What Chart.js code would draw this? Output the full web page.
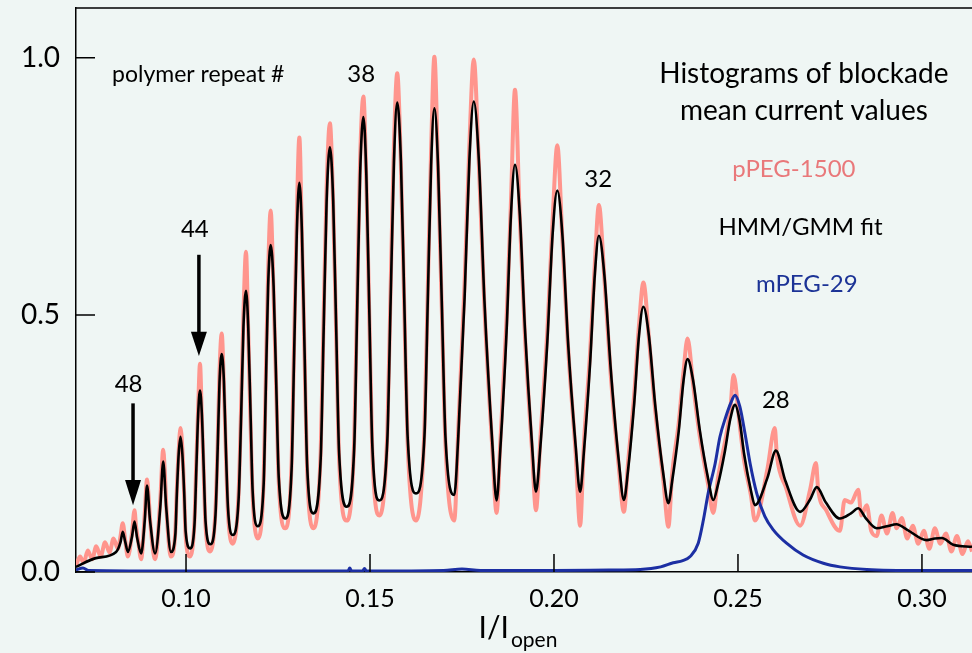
<!DOCTYPE html>
<html>
<head>
<meta charset="utf-8">
<title>Histograms of blockade mean current values</title>
<script src="https://cdn.jsdelivr.net/npm/chart.js@4.4.1/dist/chart.umd.min.js"></script>
<style>
  html, body { margin: 0; padding: 0; background: #eff6f4; }
  #wrap { width: 972px; height: 653px; }
</style>
</head>
<body>
<div id="wrap"><canvas id="histChart" width="972" height="653"></canvas></div>
<script>
// axis ticks
const xTicks = [0.10, 0.15, 0.20, 0.25, 0.30];
const yTicks = [0.0, 0.5, 1.0];

// HMM/GMM fit (black): foot, half, shoulder, peak, shoulder, half, foot, valley
const fitX = [0.0701, 0.0755, 0.0810, 0.0822, 0.0828, 0.0835, 0.0842,
  0.0853, 0.0860, 0.0867, 0.0878,
  0.0888, 0.0894, 0.0902, 0.0916,
  0.0930, 0.0938, 0.0946, 0.0959,
  0.0971, 0.0975, 0.0980, 0.0985, 0.0990, 0.0995, 0.0999, 0.1011,
  0.1023, 0.1028, 0.1033, 0.1038, 0.1043, 0.1048, 0.1053, 0.1066,
  0.1080, 0.1086, 0.1091, 0.1097, 0.1103, 0.1108, 0.1114, 0.1127,
  0.1143, 0.1150, 0.1156, 0.1163, 0.1169, 0.1175, 0.1181, 0.1195,
  0.1211, 0.1217, 0.1223, 0.1230, 0.1238, 0.1245, 0.1252, 0.1270,
  0.1287, 0.1294, 0.1301, 0.1308, 0.1315, 0.1322, 0.1329, 0.1346,
  0.1366, 0.1374, 0.1382, 0.1391, 0.1400, 0.1408, 0.1416, 0.1437,
  0.1457, 0.1465, 0.1473, 0.1482, 0.1490, 0.1498, 0.1506, 0.1525,
  0.1547, 0.1556, 0.1565, 0.1574, 0.1584, 0.1593, 0.1602, 0.1625,
  0.1648, 0.1657, 0.1666, 0.1675, 0.1685, 0.1695, 0.1705, 0.1729,
  0.1740, 0.1757, 0.1770, 0.1782, 0.1796, 0.1811, 0.1832, 0.1844,
  0.1854, 0.1871, 0.1883, 0.1894, 0.1907, 0.1921, 0.1940, 0.1951,
  0.1963, 0.1982, 0.1996, 0.2009, 0.2023, 0.2038, 0.2059, 0.2071,
  0.2081, 0.2098, 0.2111, 0.2122, 0.2137, 0.2154, 0.2176, 0.2190,
  0.2201, 0.2218, 0.2231, 0.2243, 0.2258, 0.2275, 0.2297, 0.2311,
  0.2321, 0.2339, 0.2352, 0.2363, 0.2378, 0.2396, 0.2419, 0.2433,
  0.2445, 0.2464, 0.2479, 0.2492, 0.2504, 0.2517, 0.2535, 0.2546,
  0.2580, 0.2603, 0.2629, 0.2669,
  0.2696, 0.2714, 0.2739, 0.2777,
  0.2807, 0.2827, 0.2847, 0.2877,
  0.2905, 0.2931, 0.2960, 0.3013, 0.3035, 0.3054, 0.3085, 0.3136];
const fitY = [0.010, 0.027, 0.039, 0.058, 0.078, 0.058, 0.039,
  0.068, 0.098, 0.067, 0.036,
  0.102, 0.168, 0.102, 0.036,
  0.126, 0.215, 0.127, 0.039,
  0.073, 0.151, 0.229, 0.263, 0.230, 0.155, 0.079, 0.046,
  0.092, 0.200, 0.307, 0.353, 0.308, 0.204, 0.099, 0.054,
  0.110, 0.239, 0.369, 0.424, 0.371, 0.248, 0.125, 0.072,
  0.143, 0.310, 0.476, 0.547, 0.478, 0.318, 0.158, 0.089,
  0.171, 0.363, 0.554, 0.636, 0.556, 0.370, 0.184, 0.104,
  0.202, 0.431, 0.659, 0.757, 0.661, 0.436, 0.210, 0.114,
  0.221, 0.470, 0.719, 0.826, 0.721, 0.477, 0.232, 0.127,
  0.241, 0.506, 0.771, 0.885, 0.773, 0.512, 0.251, 0.139,
  0.255, 0.526, 0.797, 0.913, 0.799, 0.533, 0.267, 0.153,
  0.265, 0.528, 0.790, 0.902, 0.789, 0.526, 0.263, 0.150,
  0.265, 0.533, 0.800, 0.915, 0.799, 0.527, 0.255, 0.139,
  0.237, 0.466, 0.694, 0.792, 0.697, 0.474, 0.251, 0.156,
  0.244, 0.449, 0.654, 0.742, 0.654, 0.449, 0.244, 0.156,
  0.231, 0.405, 0.579, 0.654, 0.577, 0.397, 0.217, 0.140,
  0.196, 0.328, 0.460, 0.516, 0.459, 0.325, 0.191, 0.134,
  0.176, 0.274, 0.372, 0.414, 0.373, 0.277, 0.181, 0.140,
  0.168, 0.233, 0.297, 0.325, 0.296, 0.228, 0.159, 0.130,
  0.183, 0.236, 0.177, 0.117,
  0.141, 0.165, 0.135, 0.104,
  0.114, 0.124, 0.105, 0.085,
  0.089, 0.093, 0.082, 0.062, 0.065, 0.066, 0.053, 0.049];

// pPEG-1500 histogram (pink), noisy
const pegX = [0.0701, 0.0712, 0.0722, 0.0733, 0.0745, 0.0756, 0.0768, 0.0780, 0.0792, 0.0803, 0.0815, 0.0822, 0.0828, 0.0835, 0.0842,
  0.0853, 0.0860, 0.0864, 0.0870, 0.0878,
  0.0888, 0.0894, 0.0898, 0.0903, 0.0916,
  0.0930, 0.0938, 0.0942, 0.0947, 0.0959,
  0.0971, 0.0975, 0.0980, 0.0985, 0.0990, 0.0995, 0.0999, 0.1011,
  0.1023, 0.1028, 0.1033, 0.1038, 0.1043, 0.1048, 0.1053, 0.1066,
  0.1080, 0.1086, 0.1091, 0.1097, 0.1103, 0.1108, 0.1114, 0.1127,
  0.1143, 0.1150, 0.1156, 0.1163, 0.1169, 0.1175, 0.1181, 0.1195,
  0.1211, 0.1217, 0.1223, 0.1230, 0.1238, 0.1245, 0.1252, 0.1270,
  0.1287, 0.1294, 0.1301, 0.1308, 0.1315, 0.1322, 0.1329, 0.1346,
  0.1366, 0.1374, 0.1382, 0.1391, 0.1400, 0.1408, 0.1416, 0.1437,
  0.1457, 0.1465, 0.1473, 0.1482, 0.1490, 0.1498, 0.1506, 0.1525,
  0.1547, 0.1556, 0.1565, 0.1574, 0.1584, 0.1593, 0.1602, 0.1625,
  0.1648, 0.1657, 0.1666, 0.1675, 0.1685, 0.1695, 0.1705, 0.1729,
  0.1740, 0.1757, 0.1770, 0.1782, 0.1796, 0.1811, 0.1832, 0.1844,
  0.1854, 0.1871, 0.1883, 0.1894, 0.1907, 0.1921, 0.1940, 0.1951,
  0.1963, 0.1982, 0.1996, 0.2009, 0.2023, 0.2038, 0.2059, 0.2071,
  0.2081, 0.2098, 0.2111, 0.2122, 0.2137, 0.2154, 0.2176, 0.2190,
  0.2201, 0.2218, 0.2231, 0.2243, 0.2258, 0.2275, 0.2297, 0.2311,
  0.2321, 0.2339, 0.2352, 0.2363, 0.2378, 0.2396, 0.2419, 0.2433,
  0.2445, 0.2464, 0.2479, 0.2488, 0.2504, 0.2517, 0.2535, 0.2546,
  0.2580, 0.2600, 0.2606, 0.2630, 0.2669,
  0.2696, 0.2712, 0.2718, 0.2740, 0.2777,
  0.2790, 0.2807, 0.2827, 0.2835, 0.2850, 0.2862, 0.2877,
  0.2890, 0.2905, 0.2920, 0.2931, 0.2945, 0.2960, 0.2975, 0.2990, 0.3005, 0.3020, 0.3035, 0.3050, 0.3065, 0.3080, 0.3095, 0.3110, 0.3125, 0.3136];
const pegY = [0.012, 0.030, 0.018, 0.042, 0.025, 0.050, 0.030, 0.058, 0.038, 0.065, 0.045, 0.070, 0.095, 0.060, 0.030,
  0.075, 0.120, 0.090, 0.060, 0.025,
  0.115, 0.180, 0.150, 0.095, 0.025,
  0.140, 0.238, 0.200, 0.120, 0.030,
  0.080, 0.160, 0.235, 0.280, 0.240, 0.150, 0.070, 0.030,
  0.100, 0.215, 0.320, 0.405, 0.300, 0.195, 0.090, 0.040,
  0.120, 0.250, 0.390, 0.464, 0.360, 0.240, 0.115, 0.055,
  0.155, 0.330, 0.500, 0.623, 0.470, 0.300, 0.150, 0.065,
  0.180, 0.385, 0.580, 0.703, 0.540, 0.360, 0.175, 0.085,
  0.215, 0.455, 0.690, 0.845, 0.650, 0.425, 0.200, 0.085,
  0.235, 0.495, 0.745, 0.873, 0.710, 0.465, 0.220, 0.100,
  0.255, 0.530, 0.800, 0.925, 0.760, 0.500, 0.240, 0.110,
  0.270, 0.550, 0.830, 0.970, 0.790, 0.520, 0.255, 0.100,
  0.280, 0.550, 0.820, 1.002, 0.780, 0.515, 0.250, 0.100,
  0.280, 0.560, 0.830, 0.997, 0.790, 0.515, 0.245, 0.115,
  0.250, 0.490, 0.720, 0.938, 0.690, 0.460, 0.240, 0.120,
  0.260, 0.470, 0.680, 0.830, 0.645, 0.440, 0.230, 0.090,
  0.245, 0.425, 0.600, 0.714, 0.570, 0.385, 0.205, 0.117,
  0.210, 0.345, 0.480, 0.563, 0.455, 0.315, 0.180, 0.088,
  0.190, 0.290, 0.390, 0.454, 0.365, 0.265, 0.170, 0.115,
  0.180, 0.250, 0.315, 0.383, 0.290, 0.215, 0.150, 0.100,
  0.200, 0.280, 0.225, 0.165, 0.090,
  0.160, 0.212, 0.160, 0.120, 0.080,
  0.140, 0.135, 0.160, 0.110, 0.130, 0.080, 0.070,
  0.110, 0.075, 0.115, 0.085, 0.105, 0.065, 0.090, 0.055, 0.080, 0.045, 0.085, 0.055, 0.075, 0.040, 0.070, 0.035, 0.060, 0.040];

// mPEG-29 histogram (blue)
const mpegX = [0.0701, 0.0720, 0.0735, 0.1000, 0.1440, 0.1445, 0.1450, 0.1480, 0.1485, 0.1490, 0.1700, 0.1750, 0.1800, 0.2000, 0.2150,
  0.2234, 0.2290, 0.2324, 0.2350, 0.2370, 0.2392, 0.2406, 0.2419, 0.2438, 0.2451, 0.2467, 0.2480, 0.2492,
  0.2505, 0.2519, 0.2533, 0.2551, 0.2573, 0.2596, 0.2632, 0.2677, 0.2732, 0.2777, 0.2850, 0.3000, 0.3136];
const mpegY = [0.004, 0.008, 0.003, 0.002, 0.002, 0.008, 0.002, 0.002, 0.007, 0.002, 0.003, 0.006, 0.003, 0.003, 0.004,
  0.005, 0.010, 0.018, 0.022, 0.030, 0.056, 0.101, 0.153, 0.211, 0.263, 0.302, 0.328, 0.344,
  0.322, 0.270, 0.211, 0.153, 0.108, 0.082, 0.056, 0.033, 0.017, 0.010, 0.005, 0.003, 0.003];

// annotations in data coordinates
const peakLabels = [
  { text: '38', x: 0.1476, y: 0.954 },
  { text: '44', x: 0.1024, y: 0.652 },
  { text: '48', x: 0.0844, y: 0.350 },
  { text: '32', x: 0.2120, y: 0.749 },
  { text: '28', x: 0.2603, y: 0.319 }
];
const arrows = [
  { x: 0.1035, top: 0.617, head: 0.4675, tip: 0.420 },
  { x: 0.0856, top: 0.328, head: 0.179, tip: 0.130 }
];
const notes = [
  { text: 'Histograms of blockade', x: 0.2679, y: 0.951, color: '#000', size: 28 },
  { text: 'mean current values', x: 0.2679, y: 0.879, color: '#000', size: 28 },
  { text: 'pPEG-1500', x: 0.2652, y: 0.769, color: '#e9787a', size: 24 },
  { text: 'HMM/GMM fit', x: 0.2670, y: 0.656, color: '#000', size: 24 },
  { text: 'mPEG-29', x: 0.2687, y: 0.545, color: '#1c3396', size: 24 }
];

const FONT = 'Lato, "Open Sans", sans-serif';

function pts(xs, ys) {
  return xs.map((x, i) => ({ x: x, y: ys[i] }));
}

const decor = {
  id: 'decor',
  afterDraw(chart) {
    const { ctx, chartArea: a, scales: { x, y } } = chart;
    ctx.save();
    ctx.strokeStyle = '#000';
    ctx.lineWidth = 1.5;
    ctx.beginPath();
    // top frame runs off the right edge
    ctx.moveTo(a.left, a.top);
    ctx.lineTo(chart.width, a.top);
    // inward tick marks
    xTicks.forEach(v => {
      const px = x.getPixelForValue(v);
      ctx.moveTo(px, a.bottom);
      ctx.lineTo(px, a.bottom - 18);
    });
    yTicks.forEach(v => {
      const py = y.getPixelForValue(v);
      ctx.moveTo(a.left, py);
      ctx.lineTo(a.left + 19, py);
    });
    ctx.stroke();

    // arrows
    ctx.fillStyle = '#000';
    arrows.forEach(ar => {
      const px = x.getPixelForValue(ar.x);
      const yTop = y.getPixelForValue(ar.top);
      const yHead = y.getPixelForValue(ar.head);
      const yTip = y.getPixelForValue(ar.tip);
      ctx.lineWidth = 3.5;
      ctx.beginPath();
      ctx.moveTo(px, yTop);
      ctx.lineTo(px, yHead + 2);
      ctx.stroke();
      ctx.beginPath();
      ctx.moveTo(px - 8, yHead);
      ctx.lineTo(px + 8, yHead);
      ctx.lineTo(px, yTip);
      ctx.closePath();
      ctx.fill();
    });

    // texts
    ctx.textBaseline = 'alphabetic';
    ctx.textAlign = 'left';
    ctx.font = '23px ' + FONT;
    ctx.fillText('polymer repeat #', x.getPixelForValue(0.0799), y.getPixelForValue(0.954));

    ctx.textAlign = 'center';
    ctx.font = '24px ' + FONT;
    peakLabels.forEach(l => {
      ctx.fillText(l.text, x.getPixelForValue(l.x), y.getPixelForValue(l.y));
    });
    notes.forEach(n => {
      ctx.fillStyle = n.color;
      ctx.font = n.size + 'px ' + FONT;
      ctx.fillText(n.text, x.getPixelForValue(n.x), y.getPixelForValue(n.y));
    });

    // x axis title I/I_open
    ctx.fillStyle = '#000';
    ctx.textAlign = 'left';
    ctx.font = '30px ' + FONT;
    const main = 'I/I';
    const wMain = ctx.measureText(main).width;
    ctx.font = '21px ' + FONT;
    const wSub = ctx.measureText('open').width;
    const cx = 518;
    const startX = cx - (wMain + wSub + 2) / 2;
    ctx.font = '30px ' + FONT;
    ctx.fillText(main, startX, 638);
    ctx.font = '21px ' + FONT;
    ctx.fillText('open', startX + wMain + 2, 647);
    ctx.restore();
  }
};

const ctx = document.getElementById('histChart').getContext('2d');
const chart = new Chart(ctx, {
  type: 'line',
  data: {
    datasets: [
      {
        label: 'HMM/GMM fit',
        data: pts(fitX, fitY),
        borderColor: '#000',
        borderWidth: 2.6,
        cubicInterpolationMode: 'monotone',
        pointRadius: 0,
        fill: false
      },
      {
        label: 'mPEG-29',
        data: pts(mpegX, mpegY),
        borderColor: '#1c2fa3',
        borderWidth: 3,
        cubicInterpolationMode: 'monotone',
        pointRadius: 0,
        fill: false
      },
      {
        label: 'pPEG-1500',
        data: pts(pegX, pegY),
        borderColor: '#ff958d',
        borderWidth: 4,
        cubicInterpolationMode: 'monotone',
        pointRadius: 0,
        fill: false
      }
    ]
  },
  options: {
    responsive: false,
    animation: false,
    layout: { padding: { top: 8, right: 0, left: 0, bottom: 0 } },
    plugins: {
      legend: { display: false },
      tooltip: { enabled: false }
    },
    scales: {
      x: {
        type: 'linear',
        min: 0.0701,
        max: 0.3136,
        afterBuildTicks: s => { s.ticks = xTicks.map(v => ({ value: v })); },
        afterFit: s => { s.height = 81; s.paddingLeft = 0; s.paddingRight = 0; },
        grid: { drawOnChartArea: false, drawTicks: false },
        border: { color: '#000', width: 1.5 },
        ticks: {
          color: '#000',
          padding: 12,
          maxRotation: 0,
          font: { family: FONT, size: 25 },
          callback: v => v.toFixed(2)
        }
      },
      y: {
        min: 0,
        max: 1.097,
        afterBuildTicks: s => { s.ticks = yTicks.map(v => ({ value: v })); },
        afterFit: s => { s.width = 76; s.paddingTop = 0; s.paddingBottom = 0; },
        grid: { drawOnChartArea: false, drawTicks: false },
        border: { color: '#000', width: 1.5 },
        ticks: {
          color: '#000',
          padding: 16,
          font: { family: FONT, size: 28 },
          callback: v => v.toFixed(1)
        }
      }
    }
  },
  plugins: [decor]
});
</script>
</body>
</html>
